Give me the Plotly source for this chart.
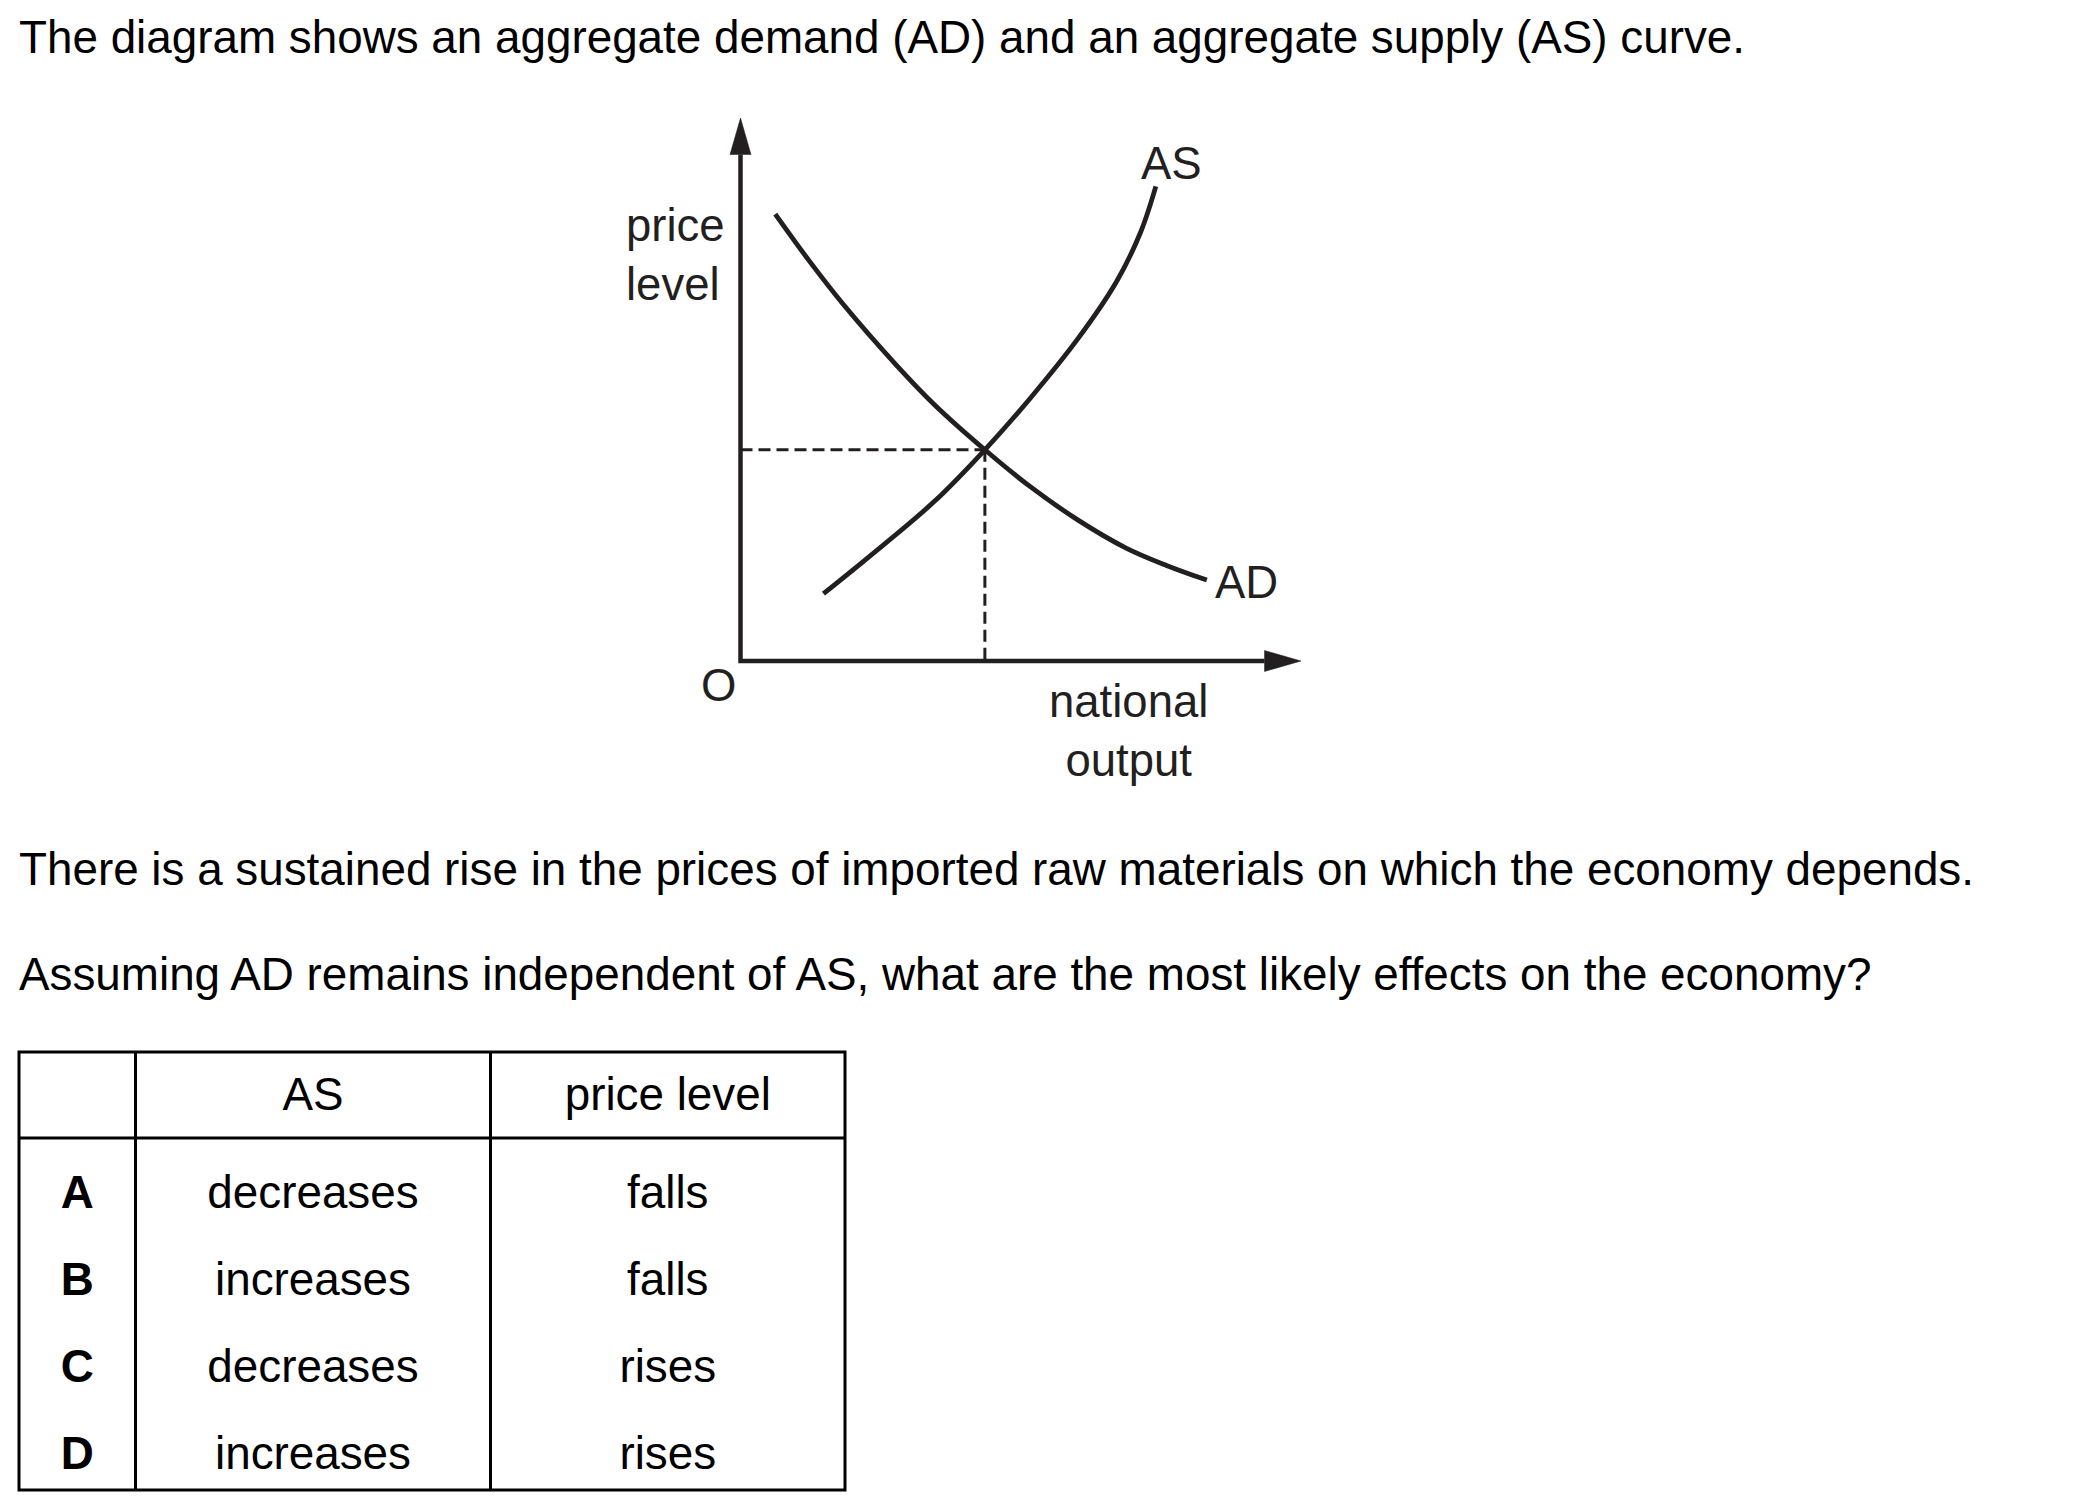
import plotly.graph_objects as go

# ---------------- data ----------------
title_text = "The diagram shows an aggregate demand (AD) and an aggregate supply (AS) curve."
stem_text = "There is a sustained rise in the prices of imported raw materials on which the economy depends."
question_text = "Assuming AD remains independent of AS, what are the most likely effects on the economy?"

# diagram (national output on x, price level on y, abstract units 0-10)
ad_x = [0.62, 1.24, 1.84, 2.78, 3.46, 4.36, 5.17, 6.03, 6.88, 7.60, 8.32]
ad_y = [8.23, 7.35, 6.56, 5.45, 4.72, 3.89, 3.21, 2.59, 2.08, 1.76, 1.49]
as_x = [1.48, 2.27, 3.46, 4.36, 5.17, 6.03, 6.71, 7.14, 7.41]
as_y = [1.24, 1.90, 2.94, 3.89, 4.84, 5.95, 6.99, 7.90, 8.74]
eq_x = 4.36
eq_y = 3.89
x_label = "national<br>output"
y_label = "price<br>level"
origin_label = "O"
ad_label = "AD"
as_label = "AS"

# answer table
table_headers = ["", "AS", "price level"]
options = ["A", "B", "C", "D"]
as_effect = ["decreases", "increases", "decreases", "increases"]
price_effect = ["falls", "falls", "rises", "rises"]

# ---------------- styles / layout ----------------
PAGE_OFF = 8                    # default body margin of the html page
W, H = 2100 - PAGE_OFF, 1504 - PAGE_OFF
FONT = "Liberation Sans, Arial, sans-serif"
FS = 45.8
FS_DIAG = 45.5
INK = "#231f20"

def px_x(p):
    return (p - PAGE_OFF) / W

def px_y(p):
    return 1 - (p - PAGE_OFF) / H

# diagram frame (page pixels)
ox, oy = 740.5, 661.0          # origin
tip_x, tip_y = 1301.0, 118.0   # arrow tips
ppx = (tip_x - ox) / 10.0
ppy = (oy - tip_y) / 10.0
arrow_len, arrow_half = 36.5, 10.5
pad = 30.0

# table frame (page pixels)
t_left, t_top, t_right, t_bottom = 19.0, 1052.0, 845.0, 1490.0
col_edges = [0.0, 116.5, 471.5, 826.0]  # relative to t_left
header_bottom = 86.0                    # relative to t_top
header_mid = 47.0
row_first, row_step = 145.0, 87.0
tpad = 10.0

fig = go.Figure()

dash_style = dict(color=INK, width=3, dash="12px,6px")
fig.add_trace(go.Scatter(x=[0, eq_x], y=[eq_y, eq_y], mode="lines", line=dash_style,
                         hoverinfo="skip", xaxis="x", yaxis="y"))
fig.add_trace(go.Scatter(x=[eq_x, eq_x], y=[eq_y, 0], mode="lines", line=dash_style,
                         hoverinfo="skip", xaxis="x", yaxis="y"))
fig.add_trace(go.Scatter(x=ad_x, y=ad_y, mode="lines",
                         line=dict(color=INK, width=4.8, shape="spline", smoothing=1.0),
                         hoverinfo="skip", xaxis="x", yaxis="y"))
fig.add_trace(go.Scatter(x=as_x, y=as_y, mode="lines",
                         line=dict(color=INK, width=4.8, shape="spline", smoothing=1.0),
                         hoverinfo="skip", xaxis="x", yaxis="y"))

# axes with arrowheads (in data units)
ybase = 10 - arrow_len / ppy
xbase = 10 - arrow_len / ppx
hw_x = arrow_half / ppx
hw_y = arrow_half / ppy
shapes = [
    dict(type="path", xref="x", yref="y", layer="above",
         path=f"M 0,{ybase} L 0,0 L {xbase},0",
         line=dict(color=INK, width=4.5)),
    dict(type="path", xref="x", yref="y", layer="above",
         path=f"M {-hw_x},{ybase} L 0,10 L {hw_x},{ybase} Z",
         fillcolor=INK, line=dict(color=INK, width=0.5)),
    dict(type="path", xref="x", yref="y", layer="above",
         path=f"M {xbase},{-hw_y} L 10,0 L {xbase},{hw_y} Z",
         fillcolor=INK, line=dict(color=INK, width=0.5)),
]

# table lines (table axis units = pixels from table corner)
tw = t_right - t_left
th = t_bottom - t_top
lw = 3
shapes.append(dict(type="rect", xref="x2", yref="y2", x0=0, x1=tw, y0=0, y1=th,
                   line=dict(color="black", width=lw)))
shapes.append(dict(type="line", xref="x2", yref="y2", x0=0, x1=tw,
                   y0=header_bottom, y1=header_bottom, line=dict(color="black", width=lw)))
for e in col_edges[1:-1]:
    shapes.append(dict(type="line", xref="x2", yref="y2", x0=e, x1=e, y0=0, y1=th,
                       line=dict(color="black", width=lw)))

col_centers = [(col_edges[i] + col_edges[i + 1]) / 2 for i in range(3)]
row_centers = [row_first + row_step * i for i in range(len(options))]

tfont = dict(family=FONT, size=FS, color="black")
fig.add_trace(go.Scatter(x=col_centers[1:], y=[header_mid] * 2, mode="text",
                         text=table_headers[1:], textposition="middle center", textfont=tfont,
                         hoverinfo="skip", xaxis="x2", yaxis="y2", cliponaxis=False))
fig.add_trace(go.Scatter(x=[col_centers[0]] * len(options), y=row_centers, mode="text",
                         text=[f"<b>{o}</b>" for o in options], textposition="middle center",
                         textfont=tfont, hoverinfo="skip", xaxis="x2", yaxis="y2", cliponaxis=False))
fig.add_trace(go.Scatter(x=[col_centers[1]] * len(options), y=row_centers, mode="text",
                         text=as_effect, textposition="middle center", textfont=tfont,
                         hoverinfo="skip", xaxis="x2", yaxis="y2", cliponaxis=False))
fig.add_trace(go.Scatter(x=[col_centers[2]] * len(options), y=row_centers, mode="text",
                         text=price_effect, textposition="middle center", textfont=tfont,
                         hoverinfo="skip", xaxis="x2", yaxis="y2", cliponaxis=False))

def ann(text, x, y, xanchor="center", align="center", color="black", size=FS):
    return dict(text=text, x=px_x(x), y=px_y(y), xref="paper", yref="paper",
                xanchor=xanchor, yanchor="middle", align=align, showarrow=False,
                font=dict(family=FONT, size=size, color=color))

annotations = [
    ann(title_text, 17, 38, xanchor="left", align="left"),
    ann(stem_text, 17, 869, xanchor="left", align="left"),
    ann(question_text, 17, 974, xanchor="left", align="left"),
    ann(y_label, 624, 255, xanchor="left", align="left", color=INK, size=FS_DIAG),
    ann(as_label, 1171.5, 164, color=INK, size=FS_DIAG),
    ann(ad_label, 1246, 582, color=INK, size=FS_DIAG),
    ann(origin_label, 718, 685.5, color=INK, size=FS_DIAG),
    ann(x_label, 1128, 731, color=INK, size=FS_DIAG),
]

hidden = dict(visible=False, showgrid=False, zeroline=False, fixedrange=True)
fig.update_layout(
    width=W, height=H, autosize=False,
    margin=dict(l=0, r=0, t=0, b=0, pad=0),
    paper_bgcolor="white", plot_bgcolor="rgba(0,0,0,0)",
    showlegend=False,
    xaxis=dict(domain=[px_x(ox - pad), px_x(tip_x + pad)],
               range=[-pad / ppx, 10 + pad / ppx], **hidden),
    yaxis=dict(domain=[px_y(oy + pad), px_y(tip_y - pad)],
               range=[-pad / ppy, 10 + pad / ppy], **hidden),
    xaxis2=dict(domain=[px_x(t_left - tpad), px_x(t_right + tpad)],
                range=[-tpad, tw + tpad], anchor="y2", **hidden),
    yaxis2=dict(domain=[px_y(t_bottom + tpad), px_y(t_top - tpad)],
                range=[th + tpad, -tpad], anchor="x2", **hidden),
    shapes=shapes,
    annotations=annotations,
)

fig.write_html("out.html")
